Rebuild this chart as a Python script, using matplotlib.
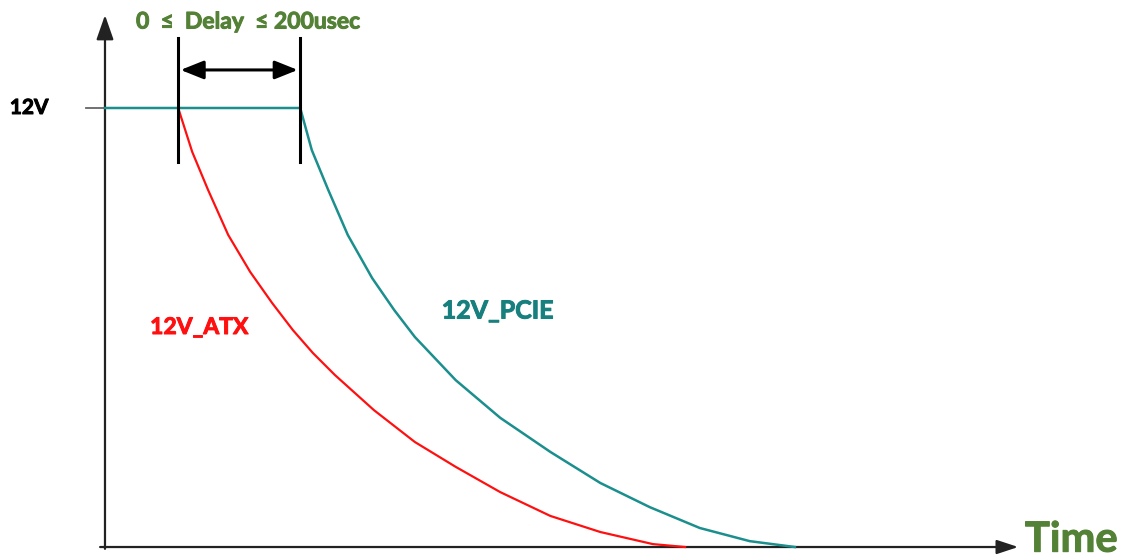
import matplotlib.pyplot as plt
import matplotlib.patheffects as pe

# time in usec, voltage in V
atx_t = [120, 143, 169, 202, 238, 274, 308, 341, 377, 441, 508, 575, 648, 730, 812, 898, 951]
atx_v = [12.0, 10.8, 9.76, 8.53, 7.52, 6.67, 5.93, 5.3, 4.7, 3.74, 2.87, 2.19, 1.5, 0.85, 0.41, 0.08, 0.0]

pcie_t = [0, 320, 339, 366, 398, 438, 474, 508, 575, 648, 730, 812, 893, 975, 1057, 1131]
pcie_v = [12.0, 12.0, 10.85, 9.76, 8.53, 7.35, 6.48, 5.74, 4.56, 3.53, 2.6, 1.75, 1.09, 0.52, 0.16, 0.0]

delay_start = 120
delay_end = 320
v_level = 12.0

green = '#538135'
teal_line = '#1b8e8e'
teal_text = '#17807f'
red = '#ff1010'

plt.rcParams['font.family'] = ['Lato', 'DejaVu Sans']

fig = plt.figure(figsize=(11.23, 5.57), dpi=100)
ax = fig.add_axes([0, 0, 1, 1])
ax.set_xlim(-172.1, 1668.8)
ax.set_ylim(-0.273, 14.952)
ax.axis('off')

# axes with arrows
ax.annotate('', xy=(0, 14.54), xytext=(0, -0.05),
            arrowprops=dict(arrowstyle='-|>,head_length=1.0,head_width=0.35',
                            mutation_scale=15, lw=1.6, color='#222222',
                            shrinkA=0, shrinkB=0))
ax.annotate('', xy=(1497, 0), xytext=(-8, 0),
            arrowprops=dict(arrowstyle='-|>,head_length=1.0,head_width=0.33',
                            mutation_scale=13, lw=1.6, color='#222222',
                            shrinkA=0, shrinkB=0))

# 12V tick
ax.plot([-31, 0], [v_level, v_level], color='#666666', lw=1.3)

# curves
ax.plot(atx_t, atx_v, color=red, lw=1.6, zorder=3, solid_joinstyle='round')
ax.plot(pcie_t, pcie_v, color=teal_line, lw=1.8, zorder=4, solid_joinstyle='round')

# delay markers
for t in (delay_start, delay_end):
    ax.plot([t, t], [10.52, 13.91], color='black', lw=2.2, zorder=5)
ax.annotate('', xy=(delay_end - 4, 13.04), xytext=(delay_start + 4, 13.04),
            arrowprops=dict(arrowstyle='<|-|>,head_length=1.0,head_width=0.4',
                            mutation_scale=14, lw=2.2, color='black',
                            shrinkA=0, shrinkB=0))


def label(x, y, s, color, size, **kw):
    ax.text(x, y, s, color=color, fontsize=size, fontweight='bold', va='center',
            path_effects=[pe.withStroke(linewidth=0.7, foreground=color)], **kw)


label(234, 14.35, '0  \u2264  Delay  \u2264 200usec', green, 16.5, ha='center')
label(-156, v_level, '12V', 'black', 15, ha='left')
label(74, 6.0, '12V_ATX', red, 16.5, ha='left')
label(552, 6.45, '12V_PCIE', teal_text, 18, ha='left')
label(1508, 0.2, 'Time', green, 30, ha='left')

fig.savefig('out.png', dpi=100)
